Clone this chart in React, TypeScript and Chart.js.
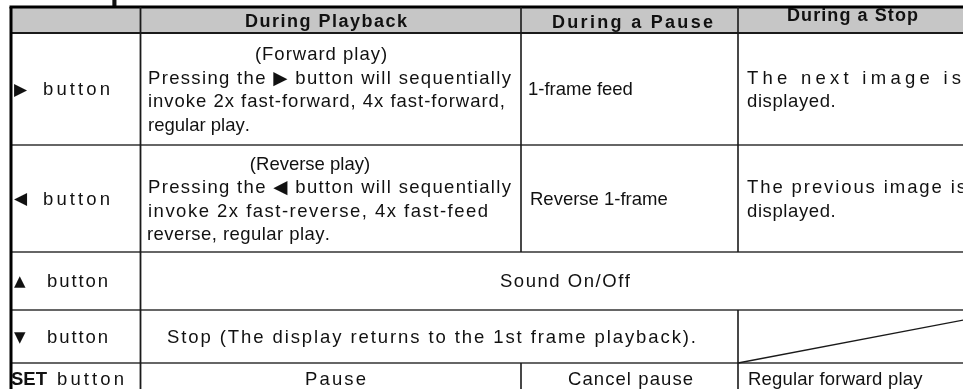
import React, { useEffect, useRef } from "react";
import { Chart, registerables } from "chart.js";

Chart.register(...registerables);

// ---------- content ----------
const TITLE = "Operations";
const HEADERS = ["During Playback", "During a Pause", "During a Stop"];
const BUTTON_SYMBOLS = ["▶", "◀", "▲", "▼"];
const SET_LABEL = "SET";
const BUTTON_WORD = "button";
const FORWARD_PLAY = [
  "(Forward play)",
  "Pressing the ▶ button will sequentially",
  "invoke 2x fast-forward, 4x fast-forward,",
  "regular play.",
];
const REVERSE_PLAY = [
  "(Reverse play)",
  "Pressing the ◀ button will sequentially",
  "invoke 2x fast-reverse, 4x fast-feed",
  "reverse, regular play.",
];
const PAUSE_TEXTS = ["1-frame feed", "Reverse 1-frame", "Cancel pause"];
const STOP_TEXTS = [
  ["The next image is", "displayed."],
  ["The previous image is", "displayed."],
  ["Regular forward play"],
];
const SOUND_TEXT = "Sound On/Off";
const STOP_ROW_TEXT = "Stop (The display returns to the 1st frame playback).";
const SET_PLAYBACK = "Pause";

// ---------- layout (table units, mapped through the chart scales) ----------
const W = 963;
const H = 389;
const COL_EDGES = [11, 140.5, 521, 738, 1016];
const ROW_EDGES = [7, 33, 145, 252, 310, 363, 395];
const LINE_GAP = 23.5;
const FONT = '"Liberation Sans", "DejaVu Sans", Arial, sans-serif';
const SYM_FONT = '"DejaVu Sans", "Liberation Sans", sans-serif';
const SIZE = 18.5;
const SYM_SIZES = [17, 17, 15, 15];

// text placement: [x, mode, value]
//   "fit": spread from x to value; "left": left at x, letter spacing = value;
//   "center": centred on x, letter spacing = value
type Place = [number, "fit" | "left" | "center", number];
const P_HEADERS: Place[] = [[245, "fit", 407], [552, "fit", 713], [787, "fit", 918]];
const P_FORWARD: Place[] = [[321, "center", 1], [148, "fit", 511], [148, "fit", 505], [148, "left", 0]];
const P_REVERSE: Place[] = [[310, "center", 0], [148, "fit", 511], [148, "fit", 488], [147, "fit", 330]];
const P_PAUSE: Place[] = [[528, "left", 0], [530, "left", 0], [568, "fit", 693]];
const P_STOP: Place[][] = [
  [[747, "fit", 961], [747, "left", 0.6]],
  [[747, "fit", 966], [747, "left", 0.6]],
  [[748, "left", 0.2]],
];
const P_BUTTON: Place[] = [[43, "fit", 110], [43, "fit", 110], [47, "fit", 108], [47, "fit", 108]];
const P_SET: Place = [11, "left", 0];
const P_SET_BUTTON: Place = [57, "fit", 124];
const P_SOUND: Place = [500, "fit", 630];
const P_STOP_ROW: Place = [167, "fit", 696];
const P_SET_PAUSE: Place = [305, "fit", 366];

type TextOpts = { bold?: boolean; size?: number; font?: string };

const tablePlugin = {
  id: "tablePlugin",
  beforeDraw(chart: any) {
    const { ctx } = chart;
    ctx.save();
    ctx.fillStyle = "#ffffff";
    ctx.fillRect(0, 0, chart.width, chart.height);
    ctx.restore();
  },
  afterDraw(chart: any) {
    const ctx: CanvasRenderingContext2D = chart.ctx;
    const xs = chart.scales.x;
    const ys = chart.scales.y;
    const px = (v: number) => xs.getPixelForValue(v);
    const py = (v: number) => ys.getPixelForValue(v);

    const line = (x1: number, y1: number, x2: number, y2: number, w: number, c: string) => {
      ctx.save();
      ctx.strokeStyle = c;
      ctx.lineWidth = w;
      ctx.beginPath();
      ctx.moveTo(px(x1), py(y1));
      ctx.lineTo(px(x2), py(y2));
      ctx.stroke();
      ctx.restore();
    };

    const setFont = (o: TextOpts) => {
      const size = o.size ?? SIZE;
      ctx.font = `${o.bold ? "bold " : ""}${size}px ${o.font ?? FONT}`;
      return size;
    };

    const put = (t: string, place: Place, yc: number, o: TextOpts = {}) => {
      ctx.save();
      ctx.fillStyle = "#111111";
      const size = setFont(o);
      ctx.textBaseline = "alphabetic";
      const [x, mode, v] = place;
      const chars = Array.from(t);
      const widths = chars.map((c) => ctx.measureText(c).width);
      const natural = widths.reduce((a, b) => a + b, 0);
      const n = Math.max(1, chars.length - 1);
      const sp = mode === "fit" ? (px(v) - px(x) - natural) / n : v;
      const total = natural + sp * n;
      let cur = mode === "center" ? px(x) - total / 2 : px(x);
      const base = py(yc) + size * 0.34;
      chars.forEach((c, i) => {
        ctx.fillText(c, cur, base);
        cur += widths[i] + sp;
      });
      ctx.restore();
    };

    const [c0, c1, c2, c3, c4] = COL_EDGES;
    const [r0, r1, r2, r3, r4, r5, r6] = ROW_EDGES;
    const mid = (a: number, b: number) => (a + b) / 2;

    // title (cut off at the top of the picture; only descenders show)
    put(TITLE, [87, "left", 0], -10.7, { bold: true, size: 30 });

    // header fill
    ctx.save();
    ctx.fillStyle = "#c6c6c6";
    ctx.fillRect(px(c0), py(r0), px(c4) - px(c0), py(r1) - py(r0));
    ctx.restore();

    const ink = "#1a1a1a";
    // horizontal rules
    line(c0 - 1.5, r0, c4, r0, 3, "#000");
    line(c0, r1, c4, r1, 2, ink);
    line(c0, r2, c4, r2, 1.6, "#333");
    line(c0, r3, c4, r3, 1.6, "#333");
    line(c0, r4, c4, r4, 1.6, "#333");
    line(c0, r5, c4, r5, 1.6, "#333");
    // vertical rules
    line(c0, r0, c0, r6, 3, "#000");
    line(c1, r0, c1, r6, 1.8, ink);
    line(c2, r0, c2, r3, 1.6, ink);
    line(c2, r5, c2, r6, 1.6, ink);
    line(c3, r0, c3, r3, 1.6, ink);
    line(c3, r4, c3, r6, 1.6, ink);
    // diagonal across the empty cell
    line(c3, r5, c4, r4, 1.3, ink);

    // header texts
    const headerY = [21, 22, 15];
    HEADERS.forEach((h, i) => put(h, P_HEADERS[i], headerY[i], { bold: true, size: 18 }));

    // button labels
    const rowCenters = [mid(r1, r2), mid(r2, r3), mid(r3, r4), mid(r4, r5)];
    BUTTON_SYMBOLS.forEach((s, i) => {
      put(s, [14, "left", 0], rowCenters[i], { size: SYM_SIZES[i], font: SYM_FONT });
      put(BUTTON_WORD, P_BUTTON[i], rowCenters[i]);
    });
    const setY = 379;
    put(SET_LABEL, P_SET, setY, { bold: true });
    put(BUTTON_WORD, P_SET_BUTTON, setY);

    // playback column, rows 1 & 2
    const blocks = [
      { lines: FORWARD_PLAY, pl: P_FORWARD, center: rowCenters[0] },
      { lines: REVERSE_PLAY, pl: P_REVERSE, center: rowCenters[1] },
    ];
    blocks.forEach((b) => {
      const y0 = b.center - 1.5 * LINE_GAP;
      b.lines.forEach((ln, k) => put(ln, b.pl[k], y0 + k * LINE_GAP));
    });

    // pause column
    put(PAUSE_TEXTS[0], P_PAUSE[0], rowCenters[0]);
    put(PAUSE_TEXTS[1], P_PAUSE[1], rowCenters[1]);
    put(PAUSE_TEXTS[2], P_PAUSE[2], setY);

    // stop column
    [0, 1].forEach((i) => {
      const yc = rowCenters[i];
      put(STOP_TEXTS[i][0], P_STOP[i][0], yc - LINE_GAP / 2);
      put(STOP_TEXTS[i][1], P_STOP[i][1], yc + LINE_GAP / 2);
    });
    put(STOP_TEXTS[2][0], P_STOP[2][0], setY);

    // spanning rows
    put(SOUND_TEXT, P_SOUND, rowCenters[2]);
    put(STOP_ROW_TEXT, P_STOP_ROW, rowCenters[3]);
    put(SET_PLAYBACK, P_SET_PAUSE, setY);
  },
};

export default function App() {
  const ref = useRef<HTMLCanvasElement>(null);
  useEffect(() => {
    document.body.style.margin = "0";
    if (!ref.current) return;
    const chart = new Chart(ref.current, {
      type: "scatter",
      data: { datasets: [] },
      options: {
        animation: false,
        responsive: false,
        events: [],
        layout: { padding: 0 },
        plugins: { legend: { display: false }, tooltip: { enabled: false } },
        scales: {
          x: { type: "linear", min: 0, max: W, display: false },
          y: { type: "linear", min: 0, max: H, reverse: true, display: false },
        },
      },
      plugins: [tablePlugin],
    } as any);
    return () => chart.destroy();
  }, []);
  return (
    <div style={{ position: "fixed", left: 0, top: 0, width: W, height: H }}>
      <canvas ref={ref} width={W} height={H} style={{ display: "block" }} />
    </div>
  );
}
